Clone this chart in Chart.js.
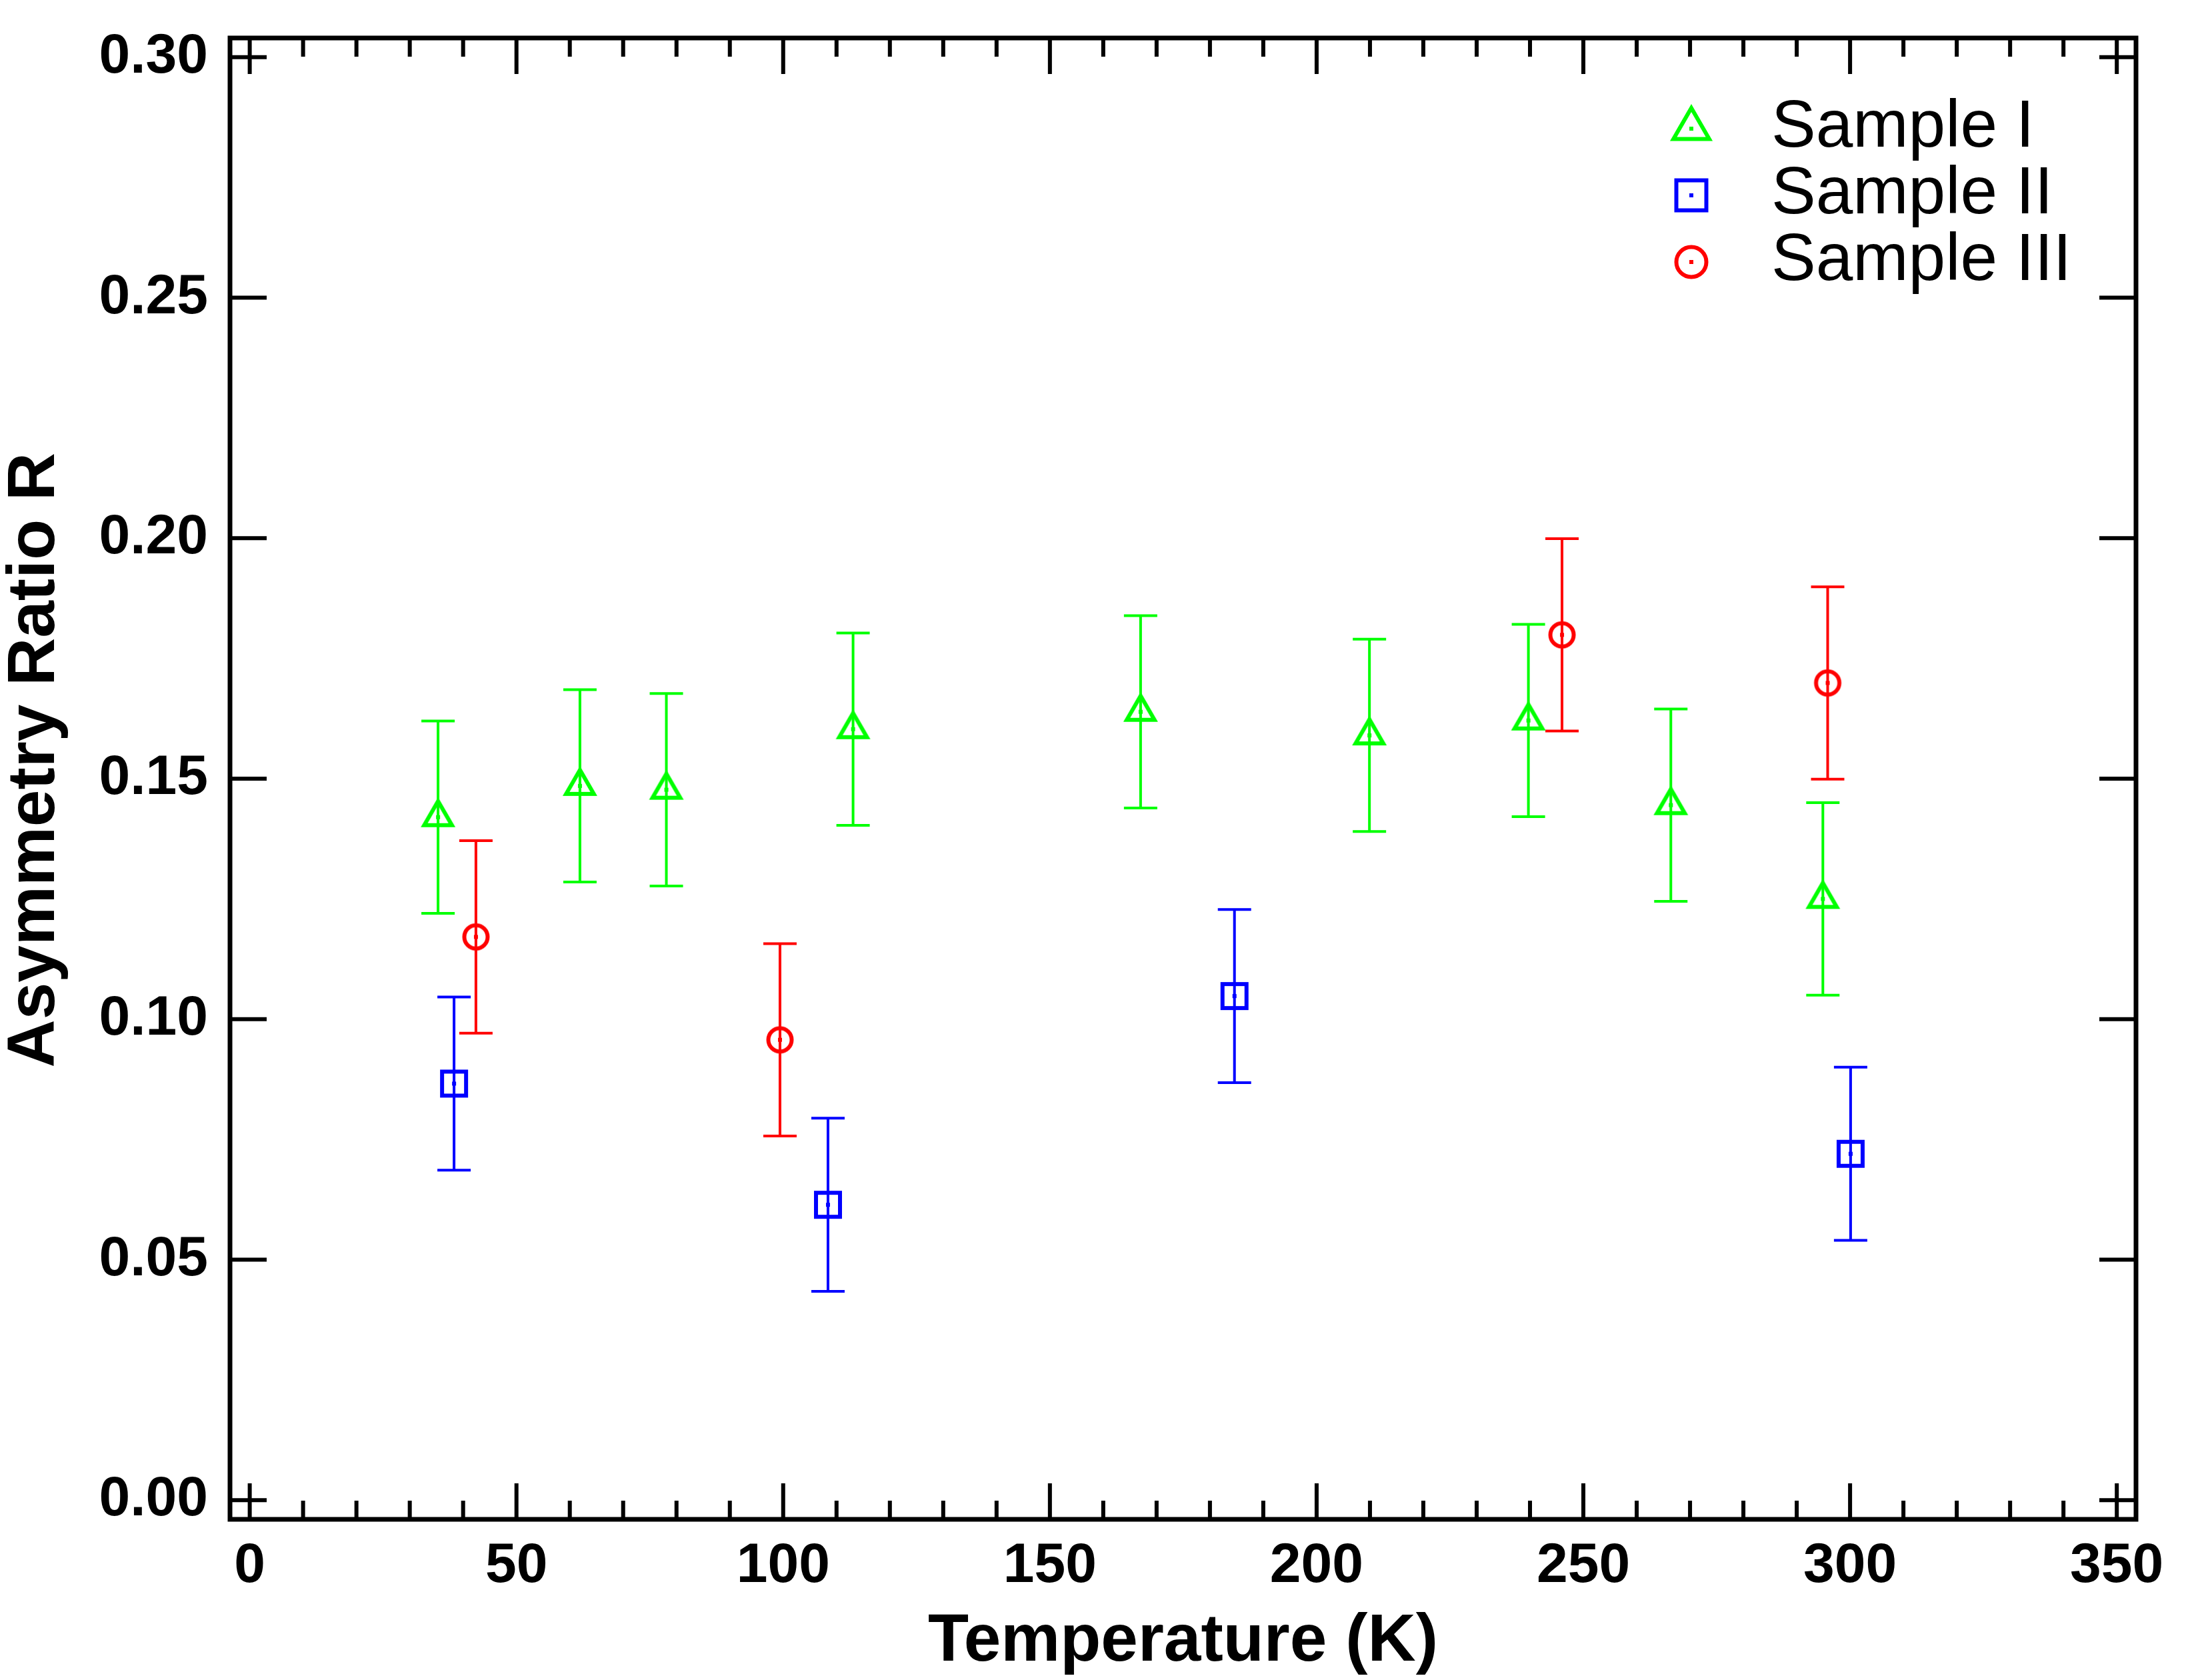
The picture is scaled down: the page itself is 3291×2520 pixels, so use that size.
<!DOCTYPE html>
<html>
<head>
  <title>Asymmetry Ratio vs Temperature</title>
  <script src="https://cdn.jsdelivr.net/npm/chart.js"></script>
  <style>
    body { margin: 0; background: #fff; }
    canvas { display: block; }
  </style>
</head>
<body>
  <canvas id="ratioChart" width="3291" height="2520" style="width:3291px;height:2520px"></canvas>
  <script>
    // values
    const tempI  = [35.3, 61.9, 78.1, 113.1, 167.0, 209.9, 239.7, 266.4, 294.9];
    const ratioI = [0.142, 0.1485, 0.1477, 0.1603, 0.1639, 0.159, 0.1621, 0.1445, 0.125];
    const errI   = [0.02, 0.02, 0.02, 0.02, 0.02, 0.02, 0.02, 0.02, 0.02];

    const tempII  = [38.3, 108.4, 184.6, 300.1];
    const ratioII = [0.0866, 0.0614, 0.1048, 0.072];
    const errII   = [0.018, 0.018, 0.018, 0.018];

    const tempIII  = [42.4, 99.4, 246.0, 295.8];
    const ratioIII = [0.1171, 0.0957, 0.1799, 0.1699];
    const errIII   = [0.02, 0.02, 0.02, 0.02];

    const seriesNames = ['Sample I', 'Sample II', 'Sample III'];
    const seriesColors = ['#00ff00', '#0000ff', '#ff0000'];

    const xTicks = [0, 50, 100, 150, 200, 250, 300, 350];
    const yTicks = [0.00, 0.05, 0.10, 0.15, 0.20, 0.25, 0.30];
    const xMinorStep = 10;
    const X_MIN = -3.7, X_MAX = 353.6;
    const Y_MIN = -0.004, Y_MAX = 0.304;

    const FONT = "'Liberation Sans', Arial, Helvetica, sans-serif";

    // open markers (no fill) with a small dot in the middle
    function makeMarker(shape, color, r, lw) {
      const half = Math.ceil(r + lw * 2 + 2);
      const c = document.createElement('canvas');
      c.width = c.height = half * 2;
      const g = c.getContext('2d');
      g.translate(half, half);
      g.strokeStyle = color;
      g.lineWidth = lw;
      g.beginPath();
      if (shape === 'triangle') {
        const h = r * Math.sqrt(3) / 2;
        g.moveTo(0, -r);
        g.lineTo(h, r / 2);
        g.lineTo(-h, r / 2);
        g.closePath();
      } else if (shape === 'rect') {
        g.rect(-r, -r, 2 * r, 2 * r);
      } else {
        g.arc(0, 0, r, 0, Math.PI * 2);
      }
      g.stroke();
      g.fillStyle = color;
      g.fillRect(-3, -3, 6, 6);
      return c;
    }

    const plotMarkers = [
      makeMarker('triangle', seriesColors[0], 24, 6),
      makeMarker('rect', seriesColors[1], 18, 6),
      makeMarker('circle', seriesColors[2], 17.5, 6)
    ];
    const legendMarkers = [
      makeMarker('triangle', seriesColors[0], 31, 6),
      makeMarker('rect', seriesColors[1], 22.5, 6),
      makeMarker('circle', seriesColors[2], 22.5, 6)
    ];

    function toPoints(xs, ys, es) {
      return xs.map((x, i) => ({ x: x, y: ys[i], err: es[i] }));
    }

    const errorBars = {
      id: 'errorBars',
      beforeDatasetsDraw(chart) {
        const { ctx, scales: { x, y } } = chart;
        ctx.save();
        ctx.lineWidth = 4;
        chart.data.datasets.forEach(ds => {
          ctx.strokeStyle = ds.borderColor;
          ctx.beginPath();
          ds.data.forEach(p => {
            const px = x.getPixelForValue(p.x);
            const top = y.getPixelForValue(p.y + p.err);
            const bot = y.getPixelForValue(p.y - p.err);
            ctx.moveTo(px, top); ctx.lineTo(px, bot);
            ctx.moveTo(px - 25, top); ctx.lineTo(px + 25, top);
            ctx.moveTo(px - 25, bot); ctx.lineTo(px + 25, bot);
          });
          ctx.stroke();
        });
        ctx.restore();
      }
    };

    const frame = {
      id: 'frame',
      afterDraw(chart) {
        const { ctx, chartArea: a, scales: { x, y } } = chart;
        ctx.save();
        ctx.strokeStyle = '#000';
        ctx.lineWidth = 6;
        ctx.beginPath();
        for (let v = xTicks[0]; v <= xTicks[xTicks.length - 1]; v += xMinorStep) {
          const px = x.getPixelForValue(v);
          const len = xTicks.includes(v) ? 54 : 28;
          ctx.moveTo(px, a.bottom); ctx.lineTo(px, a.bottom - len);
          ctx.moveTo(px, a.top); ctx.lineTo(px, a.top + len);
        }
        yTicks.forEach(v => {
          const py = y.getPixelForValue(v);
          ctx.moveTo(a.left, py); ctx.lineTo(a.left + 55, py);
          ctx.moveTo(a.right, py); ctx.lineTo(a.right - 55, py);
        });
        ctx.stroke();
        ctx.lineWidth = 7;
        ctx.strokeRect(a.left, a.top, a.right - a.left, a.bottom - a.top);
        ctx.restore();
      }
    };

    const boxLegend = {
      id: 'boxLegend',
      afterDraw(chart) {
        const { ctx, chartArea: a } = chart;
        ctx.save();
        ctx.font = '100px ' + FONT;
        ctx.fillStyle = '#000';
        ctx.textBaseline = 'alphabetic';
        ctx.textAlign = 'left';
        seriesNames.forEach((name, i) => {
          const cy = a.top + 136 + i * 100;
          const m = legendMarkers[i];
          ctx.drawImage(m, a.right - 667 - m.width / 2, cy - m.height / 2);
          ctx.fillText(name, a.right - 547, cy + 27);
        });
        ctx.restore();
      }
    };

    const tickFont = { family: FONT, size: 84, weight: 'bold' };
    const titleFont = { family: FONT, size: 100, weight: 'bold', lineHeight: 1 };

    new Chart(document.getElementById('ratioChart').getContext('2d'), {
      type: 'scatter',
      data: {
        datasets: [
          { label: seriesNames[0], data: toPoints(tempI, ratioI, errI), borderColor: seriesColors[0], pointStyle: plotMarkers[0] },
          { label: seriesNames[1], data: toPoints(tempII, ratioII, errII), borderColor: seriesColors[1], pointStyle: plotMarkers[1] },
          { label: seriesNames[2], data: toPoints(tempIII, ratioIII, errIII), borderColor: seriesColors[2], pointStyle: plotMarkers[2] }
        ]
      },
      options: {
        responsive: false,
        devicePixelRatio: 1,
        animation: false,
        layout: { padding: { left: 0, top: 57, right: 87, bottom: 0 } },
        plugins: { legend: { display: false }, tooltip: { enabled: false } },
        scales: {
          x: {
            type: 'linear',
            min: X_MIN,
            max: X_MAX,
            afterBuildTicks: s => { s.ticks = xTicks.map(v => ({ value: v })); },
            afterFit: s => { s.height = 241; s.paddingLeft = 0; s.paddingRight = 0; },
            grid: { display: false, drawTicks: false },
            border: { display: false },
            ticks: { font: tickFont, color: '#000', padding: 20, maxRotation: 0, autoSkip: false, callback: v => String(v) },
            title: { display: true, text: 'Temperature (K)', font: titleFont, color: '#000', padding: { top: 0, bottom: 7 } }
          },
          y: {
            type: 'linear',
            min: Y_MIN,
            max: Y_MAX,
            afterBuildTicks: s => { s.ticks = yTicks.map(v => ({ value: v })); },
            afterFit: s => { s.width = 345; s.paddingTop = 0; s.paddingBottom = 0; },
            grid: { display: false, drawTicks: false },
            border: { display: false },
            ticks: { font: tickFont, color: '#000', padding: 33, autoSkip: false, callback: v => v.toFixed(2) },
            title: { display: true, text: '  Asymmetry Ratio R', font: titleFont, color: '#000', padding: { top: 3, bottom: 0 } }
          }
        }
      },
      plugins: [errorBars, frame, boxLegend]
    });
  </script>
</body>
</html>
